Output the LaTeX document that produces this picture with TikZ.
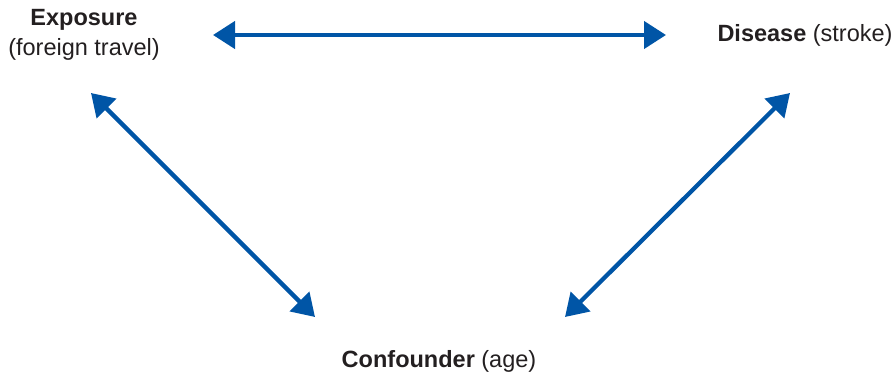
\documentclass[tikz,border=0pt]{standalone}
\usepackage{fontspec}
\setmainfont{Liberation Sans}
\usetikzlibrary{arrows.meta}
\definecolor{linkblue}{RGB}{0,85,166}
\definecolor{labelgray}{RGB}{35,31,32}
\tikzset{
  label/.style={inner sep=0pt, text=labelgray, font=\fontsize{23.5}{30}\selectfont, align=center},
  link/.style={draw=linkblue, line width=4.3pt,
    {Triangle[length=22pt,width=27pt]}-{Triangle[length=22pt,width=27pt]}}
}
\begin{document}
\begin{tikzpicture}[x=1pt,y=-1pt]
  \useasboundingbox (0,0) rectangle (896,377);
  % variable labels
  \node[label] (exposure) at (84,35) {\textbf{Exposure}\\(foreign travel)};
  \node[label] (disease) at (805,35) {\textbf{Disease} (stroke)};
  \node[label] (confounder) at (439,361) {\textbf{Confounder} (age)};
  % arrow end points
  \coordinate (eR) at (213,35);
  \coordinate (dL) at (666,35);
  \coordinate (eB) at (91,93);
  \coordinate (cL) at (315,317);
  \coordinate (dB) at (790,93);
  \coordinate (cR) at (565,317);
  % associations
  \draw[link] (eR) -- (dL);
  \draw[link] (eB) -- (cL);
  \draw[link] (dB) -- (cR);
\end{tikzpicture}
\end{document}
